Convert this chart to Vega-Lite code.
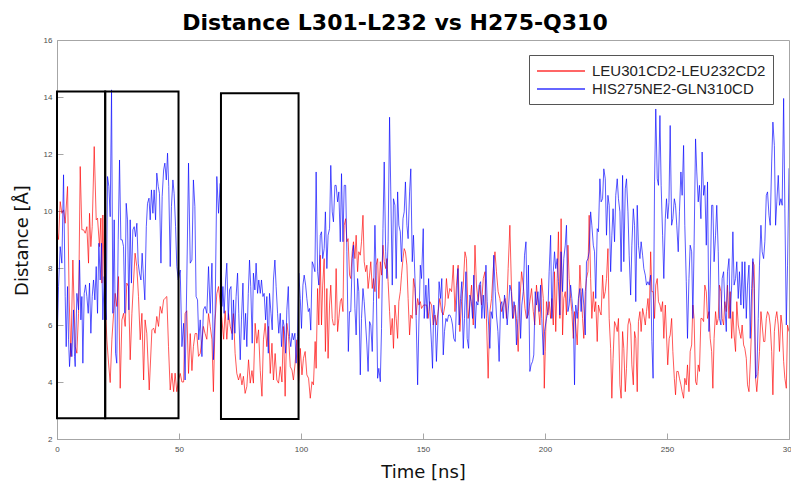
{
"$schema": "https://vega.github.io/schema/vega-lite/v6.json",
"width": 732, "height": 399,
"autosize": {"type": "none"},
"padding": {"left": 57, "top": 40, "right": 2, "bottom": 44},
"background": "white",
"title": {"text": "Distance L301-L232 vs H275-Q310", "font": "DejaVu Sans", "fontSize": 22, "fontWeight": "bold", "color": "black", "anchor": "middle", "dx": -28, "offset": 12, "dy": 28, "baseline": "alphabetic", "frame": "group"},
"config": {
 "view": {"stroke": "#a6a6a6", "strokeWidth": 1},
 "axis": {"domainColor": "#a6a6a6", "tickColor": "#a6a6a6", "labelColor": "#4d4d4d", "labelFont": "Liberation Sans", "labelFontSize": 8, "titleFont": "DejaVu Sans", "titleFontSize": 18, "titleFontWeight": "normal", "titleColor": "#111111", "grid": false, "tickSize": -6}
},
"datasets": {
"red": [
{"t":0,"d":9.34},{"t":0.63,"d":9.0},{"t":1.31,"d":10.33},{"t":1.99,"d":9.92},{"t":2.68,"d":10.04},{"t":3.36,"d":9.57},{"t":4.32,"d":10.86},{"t":5.0,"d":6.88},{"t":5.68,"d":4.89},{"t":6.5,"d":8.28},{"t":7.46,"d":5.24},{"t":8.14,"d":5.01},{"t":8.83,"d":6.41},{"t":9.51,"d":11.56},{"t":10.19,"d":9.34},{"t":10.87,"d":9.34},{"t":11.56,"d":9.22},{"t":12.24,"d":9.45},{"t":12.92,"d":8.17},{"t":13.33,"d":9.92},{"t":13.88,"d":8.75},{"t":14.43,"d":9.45},{"t":15.25,"d":12.26},{"t":16.07,"d":9.69},{"t":16.61,"d":9.75},{"t":17.43,"d":8.75},{"t":17.98,"d":9.75},{"t":18.39,"d":7.47},{"t":18.8,"d":9.86},{"t":19.34,"d":7.58},
{"t":20.44,"d":5.48},{"t":21.1,"d":4.7},{"t":21.8,"d":3.98},{"t":22.5,"d":5.5},{"t":23.2,"d":6.41},{"t":23.85,"d":7.11},{"t":24.5,"d":6.65},{"t":25.2,"d":7.7},{"t":25.9,"d":3.78},{"t":26.6,"d":6.18},{"t":27.3,"d":6.41},{"t":27.95,"d":5.95},{"t":28.6,"d":7.47},{"t":29.3,"d":7.35},{"t":30.0,"d":4.78},{"t":30.7,"d":6.41},{"t":31.4,"d":7.58},{"t":32.0,"d":8.52},{"t":32.7,"d":8.05},{"t":33.4,"d":7.0},{"t":34.1,"d":5.48},{"t":34.8,"d":6.41},{"t":35.5,"d":4.07},{"t":36.1,"d":6.18},{"t":36.8,"d":5.71},{"t":37.8,"d":3.72},{"t":38.9,"d":5.83},{"t":39.6,"d":5.89},{"t":40.2,"d":5.71},{"t":40.9,"d":6.3},{"t":41.6,"d":5.95},{"t":42.3,"d":6.65},{"t":43.0,"d":6.41},{"t":43.7,"d":6.88},{"t":44.3,"d":6.94},{"t":45.0,"d":7.0},{"t":45.7,"d":5.24},{"t":46.4,"d":3.72},{"t":47.1,"d":4.31},{"t":47.8,"d":3.66},{"t":48.4,"d":4.31},{"t":49.1,"d":3.66},{"t":49.8,"d":4.07},
{"t":50.5,"d":4.3},{"t":51.2,"d":4.0},{"t":51.9,"d":4.0},{"t":52.5,"d":6.4},{"t":53.2,"d":6.5},{"t":53.9,"d":4.3},{"t":54.6,"d":5.7},{"t":55.3,"d":4.4},{"t":55.9,"d":5.24},{"t":56.6,"d":5.7},{"t":57.3,"d":5.7},{"t":58.0,"d":4.9},{"t":58.7,"d":5.0},{"t":59.4,"d":5.5},{"t":60.0,"d":5.95},{"t":60.7,"d":5.7},{"t":61.4,"d":5.5},{"t":62.1,"d":6.4},{"t":62.8,"d":5.95},{"t":63.5,"d":5.5},{"t":64.1,"d":3.66},{"t":64.8,"d":6.18},{"t":65.5,"d":7.1},{"t":66.2,"d":7.35},
{"t":67.6,"d":6.18},{"t":68.3,"d":5.5},{"t":68.9,"d":6.5},{"t":69.6,"d":5.5},{"t":70.3,"d":6.4},{"t":71.0,"d":5.95},{"t":71.7,"d":5.7},{"t":72.3,"d":6.4},{"t":73.0,"d":5.0},{"t":73.7,"d":4.3},{"t":74.4,"d":4.07},{"t":75.1,"d":4.3},{"t":75.8,"d":3.9},{"t":76.4,"d":4.2},{"t":77.1,"d":3.6},{"t":77.8,"d":3.84},{"t":78.5,"d":4.78},{"t":79.2,"d":3.96},{"t":79.9,"d":4.4},{"t":80.5,"d":3.96},{"t":81.2,"d":6.06},{"t":81.9,"d":5.36},{"t":82.6,"d":5.83},{"t":83.3,"d":4.4},{"t":84.0,"d":3.5},{"t":84.6,"d":5.48},{"t":85.3,"d":6.06},{"t":86.0,"d":5.24},{"t":86.7,"d":5.95},{"t":87.4,"d":4.3},{"t":88.1,"d":5.36},{"t":88.7,"d":4.07},{"t":89.4,"d":5.0},{"t":90.1,"d":4.07},{"t":90.8,"d":3.96},{"t":91.5,"d":4.54},{"t":92.2,"d":4.0},{"t":92.8,"d":5.95},{"t":93.5,"d":3.5},{"t":94.2,"d":6.06},{"t":94.9,"d":5.6},{"t":95.6,"d":4.54},{"t":96.3,"d":4.42},{"t":96.9,"d":4.07},{"t":97.6,"d":4.66},{"t":98.3,"d":5.48},{"t":99.0,"d":3.96},
{"t":99.7,"d":5.18},{"t":100.4,"d":4.25},{"t":101.0,"d":4.83},{"t":101.7,"d":5.07},{"t":102.4,"d":4.25},{"t":103.1,"d":4.13},{"t":103.8,"d":3.43},{"t":104.5,"d":4.01},{"t":105.1,"d":3.9},{"t":105.8,"d":5.42},{"t":106.2,"d":4.48},{"t":106.8,"d":7.28},{"t":107.3,"d":6.0},{"t":107.9,"d":8.45},{"t":108.4,"d":6.0},{"t":108.9,"d":7.4},{"t":109.5,"d":8.33},{"t":110.0,"d":5.07},{"t":110.6,"d":7.28},{"t":111.1,"d":4.83},{"t":111.7,"d":6.7},{"t":112.2,"d":7.4},{"t":112.8,"d":6.23},{"t":113.3,"d":6.0},{"t":113.9,"d":6.0},{"t":114.4,"d":7.98},{"t":115.0,"d":5.77},{"t":115.5,"d":6.23},{"t":116.1,"d":6.82},{"t":116.6,"d":6.93},{"t":117.2,"d":6.47},{"t":117.7,"d":9.5},{"t":118.3,"d":9.73},{"t":118.8,"d":8.92},{"t":119.3,"d":9.03},{"t":119.9,"d":7.75},{"t":120.4,"d":7.63},{"t":121.0,"d":8.57},{"t":121.5,"d":8.92},{"t":122.1,"d":8.33},{"t":122.6,"d":9.15},{"t":123.2,"d":7.87},{"t":123.7,"d":8.57},{"t":124.3,"d":8.45},{"t":124.8,"d":8.92},{"t":125.4,"d":9.85},{"t":125.9,"d":8.22},{"t":126.5,"d":7.87},{"t":127.0,"d":8.1},{"t":127.5,"d":7.28},{"t":128.1,"d":7.75},{"t":128.6,"d":8.22},{"t":129.2,"d":7.28},{"t":129.7,"d":7.63},{"t":130.3,"d":7.17},{"t":130.8,"d":8.1},{"t":131.4,"d":8.33},{"t":131.9,"d":6.93},{"t":132.5,"d":8.22},{"t":133.0,"d":7.75},{"t":133.6,"d":8.8},{"t":134.1,"d":8.22},{"t":134.7,"d":7.98},{"t":135.2,"d":8.33},{"t":135.7,"d":7.52},{"t":136.3,"d":6.47},{"t":136.8,"d":5.65},{"t":137.4,"d":6.23},{"t":137.9,"d":5.18},{"t":138.5,"d":6.7},{"t":139.0,"d":6.23},{"t":139.6,"d":5.53},{"t":140.1,"d":6.82},{"t":140.7,"d":7.17},{"t":141.2,"d":7.75},{"t":141.8,"d":8.33},{"t":142.3,"d":8.68},{"t":142.8,"d":8.57},{"t":143.4,"d":8.1},{"t":143.9,"d":6.93},{"t":144.5,"d":5.65},{"t":145.0,"d":6.35},{"t":145.6,"d":6.23},{"t":146.1,"d":7.63},{"t":146.7,"d":7.28},{"t":147.2,"d":6.35},{"t":147.8,"d":6.93},{"t":148.3,"d":6.7},{"t":148.9,"d":6.82},{"t":149.4,"d":6.58},{"t":150.2,"d":6.7},
{"t":150.8,"d":6.7},{"t":151.5,"d":6.7},{"t":152.1,"d":6.23},{"t":152.8,"d":6.82},{"t":153.5,"d":6.7},{"t":154.2,"d":6.0},{"t":154.9,"d":6.35},{"t":155.5,"d":6.0},{"t":156.2,"d":6.47},{"t":156.9,"d":6.93},{"t":157.6,"d":6.47},{"t":158.3,"d":6.35},{"t":159.0,"d":6.7},{"t":159.6,"d":7.63},{"t":160.3,"d":6.93},{"t":161.0,"d":7.28},{"t":161.7,"d":7.17},{"t":162.4,"d":8.1},{"t":163.1,"d":6.47},{"t":163.7,"d":7.4},{"t":164.4,"d":8.1},{"t":165.1,"d":5.77},{"t":165.8,"d":6.82},{"t":166.5,"d":7.4},{"t":167.2,"d":8.57},{"t":167.8,"d":8.33},{"t":168.5,"d":6.23},{"t":169.2,"d":6.7},{"t":169.9,"d":7.4},{"t":170.6,"d":6.0},{"t":171.3,"d":8.8},{"t":171.9,"d":7.4},{"t":172.6,"d":6.82},{"t":173.3,"d":7.4},{"t":174.0,"d":6.7},{"t":174.7,"d":7.63},{"t":175.4,"d":7.87},{"t":176.0,"d":6.23},{"t":176.7,"d":4.13},{"t":177.4,"d":6.47},{"t":178.1,"d":6.93},{"t":178.8,"d":7.98},{"t":179.5,"d":8.57},{"t":180.1,"d":7.87},{"t":180.8,"d":7.17},{"t":181.5,"d":6.93},{"t":182.2,"d":6.47},{"t":182.9,"d":6.7},{"t":183.6,"d":6.93},{"t":184.2,"d":6.23},{"t":184.9,"d":7.98},{"t":185.6,"d":9.5},{"t":186.3,"d":7.17},{"t":187.0,"d":6.23},{"t":187.7,"d":6.7},{"t":188.3,"d":6.23},{"t":189.0,"d":5.07},{"t":189.7,"d":6.82},{"t":190.4,"d":7.87},{"t":191.1,"d":7.4},{"t":191.8,"d":6.58},{"t":192.4,"d":6.23},{"t":193.1,"d":6.35},{"t":193.8,"d":6.82},{"t":194.5,"d":7.28},{"t":195.2,"d":6.47},{"t":195.8,"d":6.0},{"t":196.5,"d":7.4},{"t":197.2,"d":6.7},{"t":197.9,"d":6.0},{"t":198.6,"d":7.63},{"t":199.3,"d":6.93},{"t":199.7,"d":3.78},
{"t":200.1,"d":5.07},{"t":200.6,"d":6.82},{"t":201.2,"d":6.35},{"t":201.7,"d":6.82},{"t":202.3,"d":6.23},{"t":202.8,"d":6.93},{"t":203.4,"d":6.0},{"t":203.9,"d":7.87},{"t":204.4,"d":5.77},{"t":205.0,"d":7.63},{"t":205.5,"d":9.27},{"t":206.1,"d":6.23},{"t":206.6,"d":9.73},{"t":207.2,"d":5.65},{"t":207.7,"d":6.93},{"t":208.3,"d":7.17},{"t":208.8,"d":6.35},{"t":209.4,"d":8.8},{"t":209.9,"d":7.63},{"t":210.5,"d":6.93},{"t":211.0,"d":6.47},{"t":211.6,"d":5.53},{"t":212.1,"d":6.47},{"t":212.6,"d":6.0},{"t":213.2,"d":5.3},{"t":213.7,"d":6.47},{"t":214.3,"d":8.1},{"t":214.8,"d":7.17},{"t":215.4,"d":6.23},{"t":215.9,"d":5.53},{"t":216.5,"d":7.17},{"t":217.0,"d":7.63},{"t":217.6,"d":7.87},{"t":218.1,"d":9.85},{"t":218.7,"d":7.63},{"t":219.2,"d":6.23},{"t":219.8,"d":7.17},{"t":220.3,"d":6.47},{"t":220.8,"d":6.82},{"t":221.4,"d":5.42},{"t":221.9,"d":6.7},{"t":222.5,"d":6.47},{"t":223.0,"d":6.35},{"t":223.6,"d":7.75},{"t":224.1,"d":6.93},{"t":224.7,"d":7.17},{"t":225.2,"d":7.63},{"t":225.8,"d":8.68},{"t":226.3,"d":6.23},{"t":226.9,"d":5.18},{"t":227.4,"d":3.43},{"t":227.9,"d":4.83},{"t":228.5,"d":6.12},{"t":229.0,"d":6.0},{"t":229.6,"d":5.77},{"t":230.1,"d":6.23},{"t":230.7,"d":3.9},{"t":231.2,"d":3.43},{"t":231.8,"d":5.77},{"t":232.3,"d":5.18},{"t":232.9,"d":3.66},{"t":233.4,"d":4.48},{"t":234.0,"d":6.0},{"t":234.5,"d":6.23},{"t":235.1,"d":6.0},{"t":235.6,"d":4.6},{"t":236.2,"d":3.9},{"t":236.7,"d":5.77},{"t":237.2,"d":5.53},{"t":237.8,"d":3.66},{"t":238.3,"d":6.12},{"t":238.9,"d":6.47},{"t":239.4,"d":5.77},{"t":240.0,"d":6.58},{"t":240.5,"d":6.35},{"t":241.1,"d":6.0},{"t":241.6,"d":6.47},{"t":242.2,"d":6.93},{"t":242.7,"d":6.23},{"t":243.3,"d":8.57},{"t":243.8,"d":7.17},{"t":244.3,"d":7.17},{"t":244.9,"d":6.23},{"t":245.4,"d":7.4},{"t":246.0,"d":7.63},{"t":246.5,"d":6.82},{"t":247.1,"d":6.7},{"t":247.6,"d":6.47},{"t":248.2,"d":6.82},{"t":248.7,"d":5.53},{"t":249.3,"d":6.7},{"t":249.8,"d":5.65},{"t":250.3,"d":4.6},{"t":250.9,"d":5.53},
{"t":251.3,"d":5.65},{"t":251.9,"d":6.23},{"t":252.4,"d":5.07},{"t":253.0,"d":4.13},{"t":253.5,"d":3.55},{"t":254.0,"d":4.37},{"t":254.6,"d":4.37},{"t":255.1,"d":4.13},{"t":255.7,"d":3.9},{"t":256.2,"d":3.66},{"t":256.8,"d":3.43},{"t":257.3,"d":4.13},{"t":257.9,"d":3.9},{"t":258.4,"d":4.6},{"t":259.0,"d":3.66},{"t":259.5,"d":5.07},{"t":260.1,"d":5.3},{"t":260.6,"d":6.7},{"t":261.1,"d":6.23},{"t":261.7,"d":4.01},{"t":262.2,"d":3.9},{"t":262.8,"d":4.6},{"t":263.3,"d":4.37},{"t":263.9,"d":6.23},{"t":264.4,"d":6.23},{"t":265.0,"d":6.12},{"t":265.5,"d":7.4},{"t":266.1,"d":7.17},{"t":266.6,"d":6.23},{"t":267.2,"d":6.47},{"t":267.7,"d":5.53},{"t":268.3,"d":5.07},{"t":268.8,"d":3.78},{"t":269.3,"d":5.53},{"t":269.9,"d":6.47},{"t":270.4,"d":6.0},{"t":271.0,"d":6.23},{"t":271.5,"d":7.4},{"t":272.1,"d":7.17},{"t":272.6,"d":6.23},{"t":273.2,"d":6.0},{"t":273.7,"d":6.82},{"t":274.3,"d":6.47},{"t":274.8,"d":7.4},{"t":275.4,"d":6.23},{"t":275.9,"d":7.17},{"t":276.5,"d":5.53},{"t":277.0,"d":6.47},{"t":277.5,"d":5.65},{"t":278.1,"d":5.07},{"t":278.6,"d":6.82},{"t":279.2,"d":6.0},{"t":279.7,"d":5.77},{"t":280.3,"d":5.53},{"t":280.8,"d":6.0},{"t":281.4,"d":5.3},{"t":281.9,"d":5.18},{"t":282.5,"d":4.83},{"t":283.0,"d":3.9},{"t":283.6,"d":3.66},{"t":284.1,"d":4.6},{"t":284.7,"d":6.0},{"t":285.2,"d":8.22},{"t":285.7,"d":8.1},{"t":286.3,"d":4.13},{"t":286.8,"d":3.66},{"t":287.4,"d":4.37},{"t":287.9,"d":5.07},{"t":288.5,"d":6.47},{"t":289.0,"d":6.0},{"t":289.6,"d":5.42},{"t":290.1,"d":5.42},{"t":290.7,"d":6.23},{"t":291.2,"d":6.47},{"t":291.8,"d":6.35},{"t":292.3,"d":6.0},{"t":292.9,"d":5.07},{"t":293.4,"d":3.55},{"t":294.0,"d":5.77},{"t":294.5,"d":6.23},{"t":295.0,"d":6.47},{"t":295.6,"d":6.0},{"t":296.1,"d":5.07},{"t":296.7,"d":6.35},{"t":297.2,"d":6.0},{"t":297.8,"d":4.72},{"t":298.3,"d":4.13},{"t":298.9,"d":3.78},{"t":299.4,"d":6.0},{"t":300.0,"d":5.77}
],
"blue": [
{"t":0,"d":5.24},{"t":0.63,"d":7.35},{"t":1.31,"d":8.75},{"t":1.99,"d":8.17},{"t":2.68,"d":11.27},{"t":3.36,"d":7.0},{"t":3.77,"d":5.24},{"t":4.32,"d":7.35},{"t":4.73,"d":5.48},{"t":5.14,"d":4.54},{"t":5.68,"d":5.36},{"t":6.09,"d":4.89},{"t":6.78,"d":6.53},{"t":7.19,"d":4.89},{"t":7.46,"d":4.54},{"t":8.14,"d":7.11},{"t":8.83,"d":6.53},{"t":9.23,"d":8.28},{"t":9.78,"d":6.18},{"t":10.19,"d":7.0},{"t":10.6,"d":4.66},{"t":11.15,"d":7.11},{"t":11.69,"d":7.41},{"t":12.24,"d":7.0},{"t":12.79,"d":6.41},{"t":13.33,"d":7.47},{"t":13.88,"d":5.71},{"t":14.43,"d":7.0},{"t":14.97,"d":7.58},{"t":15.52,"d":6.88},{"t":16.07,"d":8.05},{"t":16.61,"d":6.41},{"t":17.16,"d":8.87},{"t":17.7,"d":7.58},{"t":18.25,"d":8.87},{"t":18.8,"d":6.18},{"t":19.34,"d":7.7},
{"t":20.16,"d":6.18},{"t":20.71,"d":11.21},{"t":21.26,"d":10.86},{"t":21.8,"d":9.8},{"t":22.35,"d":14.25},{"t":22.9,"d":6.41},{"t":23.44,"d":9.69},{"t":23.99,"d":5.01},{"t":24.5,"d":4.66},{"t":25.08,"d":8.99},{"t":25.63,"d":11.79},{"t":26.17,"d":8.99},{"t":26.72,"d":8.99},{"t":27.27,"d":8.75},{"t":27.81,"d":6.41},{"t":28.36,"d":10.27},{"t":28.9,"d":9.69},{"t":29.45,"d":6.53},{"t":30.0,"d":9.69},{"t":30.5,"d":7.47},{"t":31.09,"d":9.34},{"t":31.64,"d":9.45},{"t":32.19,"d":9.1},{"t":32.73,"d":9.57},{"t":33.28,"d":8.17},{"t":33.8,"d":7.82},{"t":34.4,"d":7.58},{"t":34.9,"d":8.52},{"t":35.5,"d":7.58},{"t":36.0,"d":6.88},{"t":36.6,"d":9.45},{"t":37.1,"d":10.27},{"t":37.7,"d":10.45},{"t":38.2,"d":9.69},{"t":38.7,"d":10.74},{"t":39.3,"d":9.92},{"t":39.8,"d":10.74},{"t":40.4,"d":9.69},{"t":40.9,"d":11.33},{"t":41.5,"d":10.86},{"t":42.0,"d":10.62},{"t":42.6,"d":8.17},{"t":43.1,"d":10.51},{"t":43.7,"d":11.44},{"t":44.2,"d":11.68},{"t":44.8,"d":11.09},{"t":45.3,"d":12.03},{"t":45.8,"d":10.86},{"t":46.4,"d":8.05},{"t":46.9,"d":10.16},{"t":47.5,"d":11.09},{"t":48.0,"d":10.62},{"t":48.6,"d":9.45},{"t":49.1,"d":8.05},{"t":49.7,"d":7.58},
{"t":50.5,"d":7.93},{"t":51.2,"d":5.24},{"t":51.9,"d":6.06},{"t":52.5,"d":4.07},{"t":53.2,"d":7.58},{"t":53.9,"d":11.68},{"t":54.6,"d":8.17},{"t":55.3,"d":8.28},{"t":55.9,"d":11.09},{"t":56.5,"d":10.16},{"t":57.0,"d":7.0},{"t":57.6,"d":6.88},{"t":58.1,"d":5.48},{"t":58.7,"d":6.18},{"t":59.4,"d":4.89},{"t":60.0,"d":6.53},{"t":60.7,"d":6.65},{"t":61.4,"d":6.41},{"t":62.1,"d":8.05},{"t":62.8,"d":6.41},{"t":63.5,"d":8.17},{"t":64.1,"d":4.78},{"t":64.8,"d":6.41},{"t":65.5,"d":11.21},{"t":66.2,"d":9.92},{"t":66.9,"d":10.97},
{"t":67.6,"d":6.65},{"t":68.0,"d":7.35},{"t":68.5,"d":6.41},{"t":69.1,"d":7.58},{"t":69.6,"d":8.17},{"t":70.2,"d":6.18},{"t":70.7,"d":7.23},{"t":71.3,"d":7.35},{"t":71.8,"d":5.48},{"t":72.3,"d":6.88},{"t":72.9,"d":5.71},{"t":73.4,"d":7.0},{"t":74.0,"d":7.82},{"t":74.5,"d":6.41},{"t":75.1,"d":4.78},{"t":75.6,"d":6.18},{"t":76.2,"d":7.47},{"t":76.7,"d":5.48},{"t":77.3,"d":6.41},{"t":77.8,"d":5.24},{"t":78.4,"d":7.11},{"t":78.9,"d":8.28},{"t":79.4,"d":7.35},{"t":80.0,"d":5.36},{"t":80.5,"d":7.82},{"t":81.1,"d":7.23},{"t":81.6,"d":8.17},{"t":82.2,"d":7.11},{"t":82.7,"d":7.58},{"t":83.3,"d":7.11},{"t":83.8,"d":7.58},{"t":84.4,"d":7.0},{"t":84.9,"d":7.11},{"t":85.5,"d":6.18},{"t":86.0,"d":7.0},{"t":86.6,"d":5.01},{"t":87.1,"d":7.11},{"t":87.7,"d":6.41},{"t":88.2,"d":5.83},{"t":88.7,"d":7.58},{"t":89.3,"d":8.28},{"t":89.8,"d":7.35},{"t":90.4,"d":6.41},{"t":90.9,"d":5.71},{"t":91.5,"d":6.41},{"t":92.0,"d":5.24},{"t":92.6,"d":6.18},{"t":93.1,"d":5.95},{"t":93.7,"d":5.01},{"t":94.2,"d":6.53},{"t":94.8,"d":7.35},{"t":95.3,"d":5.59},{"t":95.8,"d":5.24},{"t":96.4,"d":5.71},{"t":96.9,"d":5.48},{"t":97.5,"d":5.71},{"t":98.0,"d":4.66},{"t":98.6,"d":5.59},{"t":99.1,"d":7.82},
{"t":99.7,"d":6.93},{"t":100.2,"d":5.88},{"t":100.8,"d":7.4},{"t":101.3,"d":7.75},{"t":101.9,"d":7.4},{"t":102.4,"d":6.93},{"t":103.0,"d":6.47},{"t":103.5,"d":6.58},{"t":104.0,"d":5.82},{"t":104.6,"d":8.22},{"t":105.1,"d":8.1},{"t":105.7,"d":7.87},{"t":106.2,"d":11.37},{"t":106.8,"d":7.87},{"t":107.3,"d":7.4},{"t":107.9,"d":9.15},{"t":108.4,"d":9.27},{"t":108.9,"d":8.33},{"t":109.5,"d":8.68},{"t":110.0,"d":9.97},{"t":110.6,"d":7.98},{"t":111.1,"d":9.15},{"t":111.7,"d":9.38},{"t":112.2,"d":11.6},{"t":112.8,"d":9.97},{"t":113.3,"d":9.62},{"t":113.9,"d":10.9},{"t":114.4,"d":10.9},{"t":115.0,"d":10.32},{"t":115.5,"d":10.67},{"t":116.1,"d":8.92},{"t":116.6,"d":11.31},{"t":117.2,"d":8.92},{"t":117.7,"d":10.9},{"t":118.3,"d":10.9},{"t":118.8,"d":8.57},{"t":119.4,"d":5.07},{"t":119.9,"d":6.47},{"t":120.4,"d":6.47},{"t":121.0,"d":8.33},{"t":121.5,"d":8.8},{"t":122.1,"d":6.58},{"t":122.6,"d":5.65},{"t":123.2,"d":7.63},{"t":123.7,"d":7.17},{"t":124.3,"d":4.25},{"t":124.8,"d":6.23},{"t":125.4,"d":7.28},{"t":125.9,"d":6.82},{"t":126.5,"d":6.0},{"t":127.0,"d":5.3},{"t":127.5,"d":4.37},{"t":128.1,"d":6.12},{"t":128.6,"d":6.0},{"t":129.2,"d":5.07},{"t":129.7,"d":6.82},{"t":130.3,"d":9.5},{"t":130.8,"d":7.75},{"t":131.4,"d":4.13},{"t":131.9,"d":4.48},{"t":132.5,"d":4.01},{"t":133.0,"d":5.88},{"t":133.6,"d":9.38},{"t":134.1,"d":11.72},{"t":134.7,"d":8.57},{"t":135.2,"d":7.63},{"t":135.7,"d":8.92},{"t":136.3,"d":13.29},{"t":136.8,"d":10.67},{"t":137.4,"d":7.4},{"t":137.9,"d":10.43},{"t":138.5,"d":10.2},{"t":139.0,"d":7.63},{"t":139.6,"d":10.67},{"t":140.1,"d":9.5},{"t":140.7,"d":9.27},{"t":141.2,"d":8.22},{"t":141.8,"d":9.73},{"t":142.3,"d":9.97},{"t":142.8,"d":11.02},{"t":143.4,"d":9.5},{"t":143.9,"d":9.03},{"t":144.5,"d":10.67},{"t":145.0,"d":11.48},{"t":145.6,"d":8.22},{"t":146.1,"d":9.15},{"t":146.7,"d":7.63},{"t":147.2,"d":6.23},{"t":147.8,"d":3.9},{"t":148.3,"d":6.0},{"t":148.9,"d":8.1},{"t":149.4,"d":7.63},
{"t":150.1,"d":9.38},{"t":150.5,"d":6.23},{"t":151.2,"d":7.4},{"t":151.7,"d":6.23},{"t":152.3,"d":7.63},{"t":152.8,"d":6.47},{"t":153.5,"d":5.3},{"t":153.9,"d":4.48},{"t":154.4,"d":6.7},{"t":155.0,"d":6.23},{"t":155.5,"d":4.72},{"t":156.1,"d":6.0},{"t":156.6,"d":7.52},{"t":157.2,"d":6.93},{"t":157.7,"d":7.63},{"t":158.3,"d":4.95},{"t":158.8,"d":5.77},{"t":159.4,"d":6.23},{"t":159.9,"d":6.12},{"t":160.5,"d":6.35},{"t":161.0,"d":6.35},{"t":161.6,"d":6.23},{"t":162.1,"d":6.0},{"t":162.6,"d":5.53},{"t":163.2,"d":5.42},{"t":163.7,"d":6.7},{"t":164.3,"d":7.98},{"t":164.8,"d":6.0},{"t":165.4,"d":6.93},{"t":165.9,"d":7.52},{"t":166.5,"d":5.18},{"t":167.0,"d":6.23},{"t":167.6,"d":7.87},{"t":168.1,"d":5.53},{"t":168.7,"d":5.18},{"t":169.2,"d":7.05},{"t":169.8,"d":6.82},{"t":170.3,"d":6.23},{"t":170.8,"d":7.75},{"t":171.4,"d":5.88},{"t":171.9,"d":6.82},{"t":172.5,"d":6.7},{"t":173.0,"d":7.4},{"t":173.6,"d":7.52},{"t":174.1,"d":6.23},{"t":174.7,"d":7.05},{"t":175.2,"d":6.23},{"t":175.8,"d":8.1},{"t":176.3,"d":6.82},{"t":176.9,"d":6.0},{"t":177.4,"d":5.18},{"t":177.9,"d":6.47},{"t":178.5,"d":6.23},{"t":179.0,"d":8.45},{"t":179.6,"d":7.17},{"t":180.1,"d":6.35},{"t":180.7,"d":5.77},{"t":181.2,"d":4.72},{"t":181.8,"d":6.7},{"t":182.3,"d":6.82},{"t":182.9,"d":6.23},{"t":183.4,"d":7.05},{"t":184.0,"d":6.7},{"t":184.5,"d":6.0},{"t":185.1,"d":6.7},{"t":185.6,"d":7.4},{"t":186.2,"d":7.17},{"t":186.7,"d":6.23},{"t":187.3,"d":6.82},{"t":187.8,"d":6.58},{"t":188.3,"d":5.3},{"t":188.9,"d":6.23},{"t":189.4,"d":7.52},{"t":190.0,"d":5.53},{"t":190.5,"d":6.7},{"t":191.1,"d":7.17},{"t":191.6,"d":8.45},{"t":192.2,"d":8.92},{"t":192.7,"d":6.23},{"t":193.2,"d":8.1},{"t":193.8,"d":4.37},{"t":194.3,"d":4.6},{"t":194.9,"d":4.72},{"t":195.4,"d":4.95},{"t":196.0,"d":7.17},{"t":196.5,"d":6.7},{"t":197.1,"d":7.17},{"t":197.6,"d":6.47},{"t":198.2,"d":7.4},{"t":198.7,"d":6.23},{"t":199.3,"d":4.95},{"t":199.8,"d":5.77},
{"t":200.6,"d":6.23},{"t":201.2,"d":6.47},{"t":201.7,"d":7.87},{"t":202.3,"d":9.15},{"t":202.8,"d":6.23},{"t":203.4,"d":7.87},{"t":203.9,"d":8.57},{"t":204.4,"d":7.98},{"t":205.0,"d":8.33},{"t":205.5,"d":7.52},{"t":206.1,"d":6.35},{"t":206.6,"d":8.57},{"t":207.2,"d":7.17},{"t":207.7,"d":8.33},{"t":208.3,"d":8.8},{"t":208.8,"d":9.5},{"t":209.4,"d":6.47},{"t":209.9,"d":6.7},{"t":210.5,"d":7.4},{"t":211.0,"d":6.93},{"t":211.6,"d":6.35},{"t":212.1,"d":3.9},{"t":212.6,"d":6.7},{"t":213.2,"d":6.23},{"t":213.7,"d":6.93},{"t":214.3,"d":7.28},{"t":214.8,"d":6.47},{"t":215.4,"d":7.28},{"t":215.9,"d":6.7},{"t":216.5,"d":5.65},{"t":217.0,"d":8.22},{"t":217.6,"d":8.33},{"t":218.1,"d":8.57},{"t":218.7,"d":9.97},{"t":219.2,"d":9.5},{"t":219.8,"d":8.8},{"t":220.3,"d":8.57},{"t":220.8,"d":6.93},{"t":221.4,"d":9.38},{"t":221.9,"d":9.27},{"t":222.5,"d":11.13},{"t":223.0,"d":10.32},{"t":223.6,"d":10.43},{"t":224.1,"d":11.48},{"t":224.7,"d":11.13},{"t":225.2,"d":9.15},{"t":225.8,"d":10.55},{"t":226.3,"d":10.2},{"t":226.9,"d":7.87},{"t":227.4,"d":9.15},{"t":227.9,"d":10.08},{"t":228.5,"d":8.92},{"t":229.0,"d":10.55},{"t":229.6,"d":11.13},{"t":230.1,"d":10.43},{"t":230.7,"d":9.97},{"t":231.2,"d":7.87},{"t":231.8,"d":11.25},{"t":232.3,"d":8.22},{"t":232.9,"d":10.78},{"t":233.4,"d":11.13},{"t":234.0,"d":9.97},{"t":234.5,"d":8.45},{"t":235.1,"d":7.05},{"t":235.6,"d":8.8},{"t":236.2,"d":10.08},{"t":236.7,"d":9.5},{"t":237.2,"d":6.82},{"t":237.8,"d":10.2},{"t":238.3,"d":8.8},{"t":238.9,"d":8.33},{"t":239.4,"d":8.92},{"t":240.0,"d":8.45},{"t":240.5,"d":7.98},{"t":241.1,"d":7.75},{"t":241.6,"d":7.4},{"t":242.2,"d":7.52},{"t":242.7,"d":7.4},{"t":243.3,"d":7.75},{"t":243.8,"d":5.42},{"t":244.3,"d":4.13},{"t":244.9,"d":11.02},{"t":245.4,"d":13.58},{"t":246.0,"d":11.13},{"t":246.5,"d":10.9},{"t":247.1,"d":13.35},{"t":247.6,"d":10.9},{"t":248.2,"d":9.15},{"t":248.7,"d":7.63},{"t":249.3,"d":9.73},{"t":249.8,"d":10.43},{"t":250.3,"d":9.73},{"t":250.8,"d":10.3},
{"t":251.3,"d":13.0},{"t":251.9,"d":9.5},{"t":252.4,"d":9.73},{"t":253.0,"d":10.43},{"t":253.5,"d":10.2},{"t":254.0,"d":9.5},{"t":254.6,"d":8.57},{"t":255.1,"d":9.97},{"t":255.7,"d":11.37},{"t":256.2,"d":10.55},{"t":256.8,"d":12.3},{"t":257.3,"d":9.5},{"t":257.9,"d":7.52},{"t":258.4,"d":5.53},{"t":259.0,"d":7.63},{"t":259.5,"d":8.8},{"t":260.1,"d":8.57},{"t":260.6,"d":6.23},{"t":261.1,"d":8.8},{"t":261.7,"d":12.53},{"t":262.2,"d":11.37},{"t":262.8,"d":10.32},{"t":263.3,"d":10.9},{"t":263.9,"d":9.73},{"t":264.4,"d":12.07},{"t":265.0,"d":10.55},{"t":265.5,"d":10.9},{"t":266.1,"d":8.8},{"t":266.6,"d":11.02},{"t":267.2,"d":5.77},{"t":267.7,"d":7.4},{"t":268.3,"d":10.2},{"t":268.8,"d":10.2},{"t":269.3,"d":8.22},{"t":269.9,"d":9.15},{"t":270.4,"d":10.2},{"t":271.0,"d":8.57},{"t":271.5,"d":6.23},{"t":272.1,"d":6.0},{"t":272.6,"d":7.63},{"t":273.2,"d":7.87},{"t":273.7,"d":6.7},{"t":274.3,"d":5.77},{"t":274.8,"d":7.87},{"t":275.4,"d":8.33},{"t":275.9,"d":6.23},{"t":276.5,"d":7.4},{"t":277.0,"d":9.27},{"t":277.5,"d":7.4},{"t":278.1,"d":7.63},{"t":278.6,"d":8.22},{"t":279.2,"d":6.93},{"t":279.7,"d":7.87},{"t":280.3,"d":6.7},{"t":280.8,"d":8.22},{"t":281.4,"d":6.58},{"t":281.9,"d":8.22},{"t":282.5,"d":6.23},{"t":283.0,"d":7.4},{"t":283.6,"d":8.1},{"t":284.1,"d":5.53},{"t":284.7,"d":7.28},{"t":285.2,"d":8.33},{"t":285.7,"d":7.28},{"t":286.3,"d":4.13},{"t":286.8,"d":4.25},{"t":287.4,"d":6.23},{"t":287.9,"d":8.1},{"t":288.5,"d":9.5},{"t":289.0,"d":8.57},{"t":289.6,"d":8.33},{"t":290.1,"d":8.92},{"t":290.7,"d":10.55},{"t":291.2,"d":10.67},{"t":291.8,"d":9.85},{"t":292.3,"d":9.5},{"t":292.9,"d":11.72},{"t":293.4,"d":13.12},{"t":294.0,"d":12.3},{"t":294.5,"d":9.5},{"t":295.0,"d":10.32},{"t":295.6,"d":11.25},{"t":296.1,"d":10.2},{"t":296.7,"d":10.43},{"t":297.2,"d":10.2},{"t":297.8,"d":13.95},{"t":298.3,"d":10.08},{"t":298.9,"d":6.0},{"t":299.4,"d":8.1},{"t":300.0,"d":11.5}
],
"boxes": [
{"x1":0,"x2":19.75,"y1":2.73,"y2":14.19},
{"x1":19.75,"x2":49.8,"y1":2.73,"y2":14.19},
{"x1":67.2,"x2":99.0,"y1":2.7,"y2":14.13}
]
},
"layer": [
{
 "data": {"name": "red"},
 "mark": {"type": "line", "strokeWidth": 1, "opacity": 0.65, "clip": true},
 "encoding": {
  "x": {"field": "t", "type": "quantitative", "scale": {"domain": [0, 300], "nice": false},
        "axis": {"title": "Time [ns]", "values": [0, 50, 100, 150, 200, 250, 300], "labelPadding": 12, "titleX": 366, "titleY": 38, "titleBaseline": "alphabetic", "labelFlush": false}},
  "y": {"field": "d", "type": "quantitative", "scale": {"domain": [2, 16], "nice": false},
        "axis": {"title": "Distance [Å]", "values": [2, 4, 6, 8, 10, 12, 14, 16], "labelPadding": 11, "titleX": -35, "titleY": 200, "titleBaseline": "middle", "titleAlign": "center", "titleAngle": -90}},
  "color": {"datum": "LEU301CD2-LEU232CD2", "type": "nominal",
        "scale": {"domain": ["LEU301CD2-LEU232CD2", "HIS275NE2-GLN310CD"], "range": ["#ff0000", "#0000ff"]},
        "legend": {"title": null, "orient": "none", "legendX": 472, "legendY": 15, "direction": "vertical", "fillColor": "white", "strokeColor": "#555555", "padding": 7, "labelFont": "Liberation Sans", "labelFontSize": 15, "labelColor": "#222222", "labelBaseline": "middle", "symbolType": "stroke", "symbolSize": 2304, "symbolStrokeWidth": 1.3, "symbolOpacity": 0.8, "rowPadding": 1, "labelOffset": 6, "labelLimit": 300,
          "encode": {"symbols": {"update": {"y": {"value": 9}}}, "labels": {"update": {"y": {"value": 9}}}}}}
 }
},
{
 "data": {"name": "blue"},
 "mark": {"type": "line", "strokeWidth": 1, "opacity": 0.65, "clip": true},
 "encoding": {
  "x": {"field": "t", "type": "quantitative"},
  "y": {"field": "d", "type": "quantitative"},
  "color": {"datum": "HIS275NE2-GLN310CD", "type": "nominal"}
 }
},
{
 "data": {"name": "boxes"},
 "mark": {"type": "rect", "filled": false, "stroke": "black", "strokeWidth": 2},
 "encoding": {
  "x": {"field": "x1", "type": "quantitative"},
  "x2": {"field": "x2"},
  "y": {"field": "y1", "type": "quantitative"},
  "y2": {"field": "y2"}
 }
}
]
}
